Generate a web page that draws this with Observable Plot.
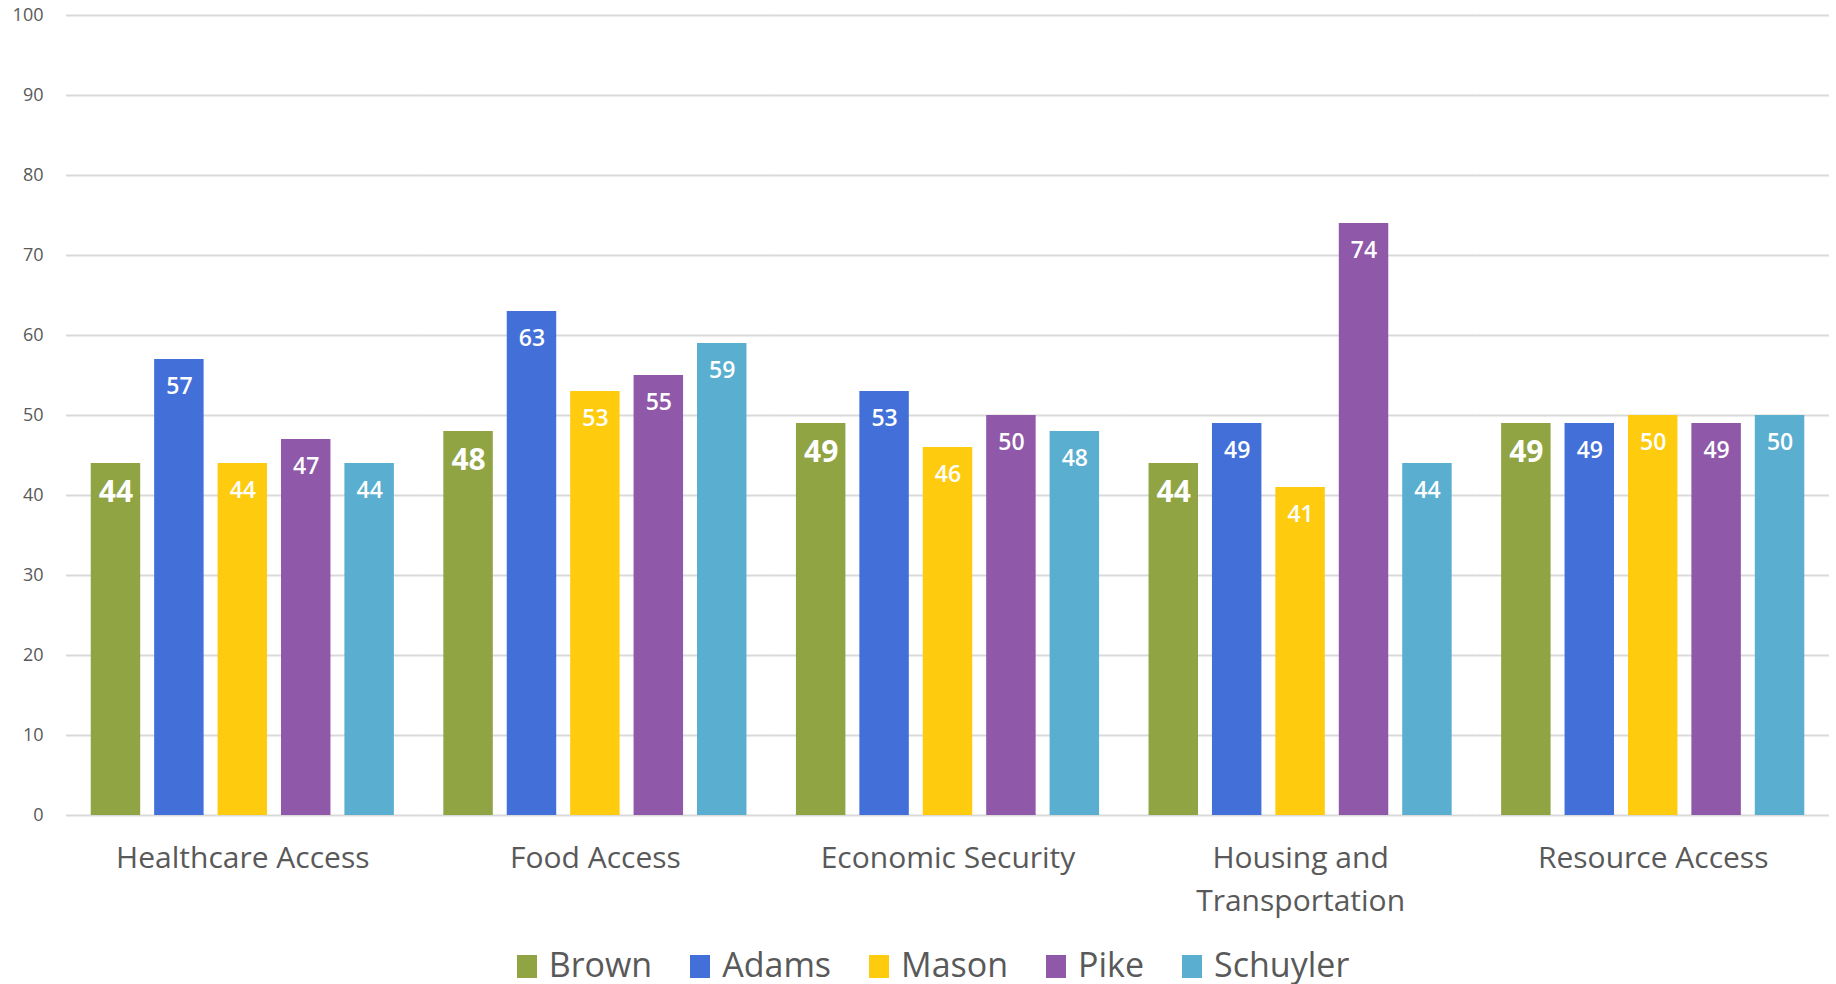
<!DOCTYPE html>
<html>
<head>
<meta charset="utf-8">
<script src="https://cdn.jsdelivr.net/npm/d3@7"></script>
<script src="https://cdn.jsdelivr.net/npm/@observablehq/plot@0.6"></script>
<style>
  html, body { margin: 0; padding: 0; background: #fff; }
  #chart { width: 1836px; height: 930px; }
  #legend { display: flex; justify-content: center; align-items: center; height: 54px; padding-left: 30px; padding-top: 14px; box-sizing: border-box;
            font-family: "Open Sans", sans-serif; font-size: 34px; color: #595959; gap: 38px; }
  #legend .item { display: flex; align-items: center; gap: 12px; }
  #legend .sw { width: 20px; height: 23px; display: inline-block; margin-top: 5px; }
</style>
</head>
<body>
<div id="chart"></div>
<div id="legend"></div>
<script>
const categories = ["Healthcare Access", "Food Access", "Economic Security", "Housing and Transportation", "Resource Access"];
const categoryLabels = ["Healthcare Access", "Food Access", "Economic Security", "Housing and\nTransportation", "Resource Access"];
const series = ["Brown", "Adams", "Mason", "Pike", "Schuyler"];
const colors = ["#90a443", "#4270d8", "#fecb0f", "#8f58a9", "#5aaecf"];
const brown    = [44, 48, 49, 44, 49];
const adams    = [57, 63, 53, 49, 49];
const mason    = [44, 53, 46, 41, 50];
const pike     = [47, 55, 50, 74, 49];
const schuyler = [44, 59, 48, 44, 50];
const yTicks = [0, 10, 20, 30, 40, 50, 60, 70, 80, 90, 100];

const seriesValues = [brown, adams, mason, pike, schuyler];
const data = [];
categories.forEach((c, ci) => {
  series.forEach((s, si) => {
    data.push({category: c, series: s, value: seriesValues[si][ci]});
  });
});

const plot = Plot.plot({
  width: 1836,
  height: 930,
  marginTop: 15,
  marginLeft: 66,
  marginRight: 7,
  marginBottom: 115,
  style: {fontFamily: "Open Sans, sans-serif", background: "#fff"},
  fx: {domain: categories, padding: 0, round: false, axis: null},
  x: {domain: series, paddingInner: 0.22, paddingOuter: 0.39, round: false, axis: null},
  y: {domain: [0, 100], axis: null},
  color: {domain: series, range: colors},
  marks: [
    Plot.gridY(yTicks, {stroke: "#d9d9d9", strokeOpacity: 1, strokeWidth: 2}),
    Plot.axisY({ticks: yTicks, tickSize: 0, tickPadding: 23, fontSize: 18, fill: "#595959", label: null}),
    Plot.barY(data, {fx: "category", x: "series", y: "value", fill: "series"}),
    Plot.text(data.filter(d => d.series === "Brown"), {
      fx: "category", x: "series", y: "value", text: d => String(d.value),
      dy: 29, fill: "white", fontSize: 30, fontWeight: "bold"
    }),
    Plot.text(data.filter(d => d.series !== "Brown"), {
      fx: "category", x: "series", y: "value", text: d => String(d.value),
      dy: 27, fill: "white", fontSize: 23, fontWeight: 600
    }),
    Plot.axisFx({
      anchor: "bottom", tickSize: 0, tickPadding: 22, fontSize: 30, lineHeight: 1.43,
      fill: "#595959", label: null,
      tickFormat: d => categoryLabels[categories.indexOf(d)]
    })
  ]
});
document.getElementById("chart").appendChild(plot);

const legend = document.getElementById("legend");
series.forEach((s, i) => {
  const item = document.createElement("span");
  item.className = "item";
  const sw = document.createElement("span");
  sw.className = "sw";
  sw.style.background = colors[i];
  const t = document.createElement("span");
  t.textContent = s;
  item.appendChild(sw);
  item.appendChild(t);
  legend.appendChild(item);
});
</script>
</body>
</html>
